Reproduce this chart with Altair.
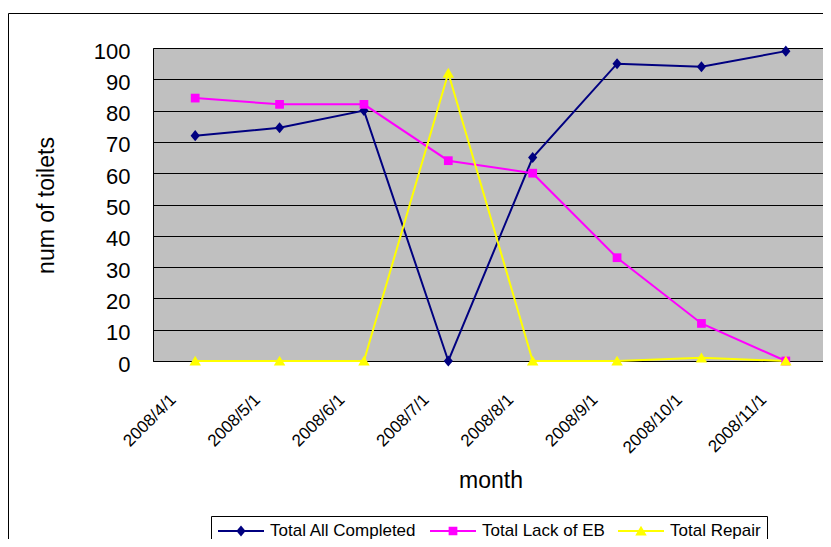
import altair as alt
import pandas as pd

months = ["2008/4/1", "2008/5/1", "2008/6/1", "2008/7/1",
          "2008/8/1", "2008/9/1", "2008/10/1", "2008/11/1"]
series_names = ["Total All Completed", "Total Lack of EB", "Total Repair"]
completed = [72, 74.5, 80, 0, 65, 95, 94, 99]
lack_eb = [84, 82, 82, 64, 60, 33, 12, 0]
repair = [0, 0, 0, 92, 0, 0, 1, 0]
y_ticks = [0, 10, 20, 30, 40, 50, 60, 70, 80, 90, 100]

colors = ["#000080", "#FF00FF", "#FFFF00"]
shape_paths = [
    "M0,-0.24L0.2,0L0,0.24L-0.2,0Z",
    "M-0.19,-0.19H0.19V0.19H-0.19Z",
    "M0,-0.23L0.25,0.2L-0.25,0.2Z",
]

rows = []
for name, vals in zip(series_names, [completed, lack_eb, repair]):
    for m, v in zip(months, vals):
        rows.append({"month": m, "series": name, "series2": name, "value": v})
df = pd.DataFrame(rows)

FONT = "Liberation Sans"
SYM = 2116

x_enc = alt.X("month:N", sort=months,
              scale=alt.Scale(type="point", padding=0.5),
              axis=alt.Axis(title="month", labelAngle=-45, labelAlign="right",
                            labelBaseline="top", labelOffset=-28, labelPadding=30,
                            ticks=False, tickSize=0, labelFontSize=17, labelFont=FONT,
                            labelColor="black", domainColor="black", domainWidth=1,
                            titleFontSize=23, titleFont=FONT, titleFontWeight="normal",
                            titleColor="black", titleY=126,
                            titleBaseline="alphabetic",
                            grid=False, labelOverlap=False))
y_enc = alt.Y("value:Q", scale=alt.Scale(domain=[0, 100], nice=False),
              axis=alt.Axis(title="num of toilets", values=y_ticks, ticks=False, tickSize=0,
                            labelPadding=23, labelOffset=3, labelFontSize=22, labelFont=FONT,
                            labelColor="black", domainColor="black", domainWidth=1,
                            gridColor="black", gridWidth=1, grid=True,
                            titleFontSize=23, titleFont=FONT, titleFontWeight="normal",
                            titleColor="black", titleAngle=-90, titleX=-107, titleY=157,
                            titleAlign="center", titleBaseline="middle"))

common_legend = dict(orient="none", legendX=58, legendY=468, direction="horizontal",
                     title=None, symbolSize=SYM, symbolStrokeWidth=2, labelFontSize=17,
                     labelFont=FONT, labelColor="black", padding=6, clipHeight=18,
                     labelOffset=5, columnPadding=12, labelLimit=300)

lines = alt.Chart(df).mark_line(strokeWidth=2).encode(
    x=x_enc, y=y_enc,
    color=alt.Color("series:N", scale=alt.Scale(range=colors),
                    legend=alt.Legend(strokeColor="black", fillColor="white", **common_legend)),
)

pts_legend = alt.Legend(labelOpacity=0, **common_legend)
points = alt.Chart(df).mark_point(filled=True, size=SYM, opacity=1, strokeWidth=0).encode(
    x=x_enc, y=y_enc,
    fill=alt.Fill("series2:N", scale=alt.Scale(range=colors), legend=pts_legend),
    shape=alt.Shape("series2:N", scale=alt.Scale(range=shape_paths), legend=pts_legend),
)

frame = alt.Chart(pd.DataFrame({"a": [0]})).mark_rect(
    filled=False, stroke="black", strokeWidth=1, fill=None).encode(
    x=alt.value(-144.5), x2=alt.value(700), y=alt.value(-34.5), y2=alt.value(520))

chart = alt.layer(frame, lines, points).properties(
    width=675, height=313,
    padding={"left": 145, "top": 40, "right": -5, "bottom": 178},
    autosize=alt.AutoSizeParams(type="none"),
    background="white",
).configure_view(fill="#C0C0C0", stroke="#808080", strokeWidth=1)

chart.save("out.html", embed_options={"renderer": "svg", "actions": False})
